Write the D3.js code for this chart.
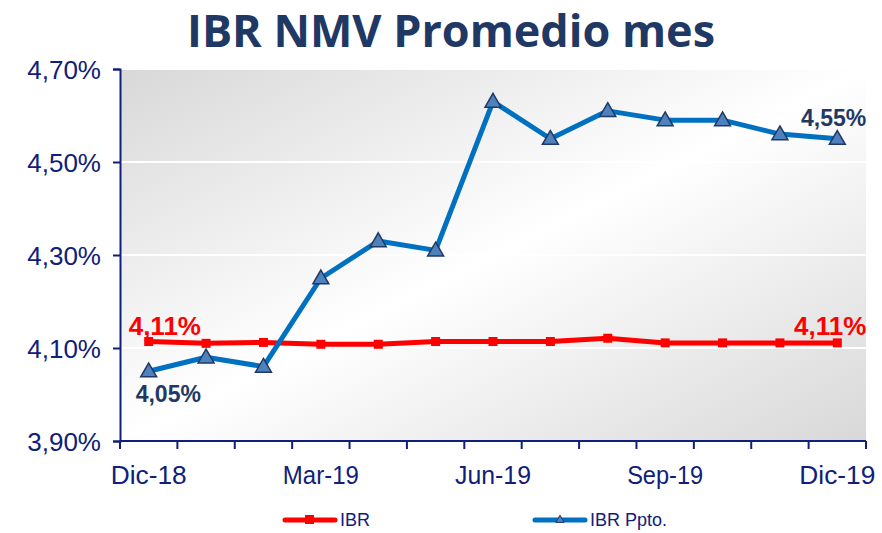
<!DOCTYPE html>
<html>
<head>
<meta charset="utf-8">
<script src="https://cdn.jsdelivr.net/npm/d3@7"></script>
<style>
  body { margin: 0; background: #fff; }
  svg { display: block; }
</style>
</head>
<body>
<div id="chart"></div>
<script>
// meses (categorías del eje x)
const months = ["Dic-18", "Ene-19", "Feb-19", "Mar-19", "Abr-19", "May-19", "Jun-19",
                "Jul-19", "Ago-19", "Sep-19", "Oct-19", "Nov-19", "Dic-19"];
const shownMonths = ["Dic-18", "Mar-19", "Jun-19", "Sep-19", "Dic-19"];
// valores en %
const ibr = [4.114, 4.110, 4.112, 4.108, 4.108, 4.114, 4.114, 4.114, 4.121, 4.111, 4.111, 4.111, 4.111];
const ibrPpto = [4.05, 4.08, 4.06, 4.25, 4.33, 4.31, 4.63, 4.55, 4.61, 4.59, 4.59, 4.56, 4.55];
const yTicks = [3.90, 4.10, 4.30, 4.50, 4.70];
const title = "IBR NMV Promedio mes";

const W = 882, H = 533;
const margin = {top: 69, right: 16, bottom: 92, left: 120};
const innerW = W - margin.left - margin.right;
const innerH = H - margin.top - margin.bottom;

const NAVY = "#10207a";
const DARK = "#1f3864";
const RED = "#ff0000";
const BLUE = "#0070c0";
const TRI = "#4f81bd";

const fmt = v => d3.format(".2f")(v).replace(".", ",") + "%";

const svg = d3.select("#chart").append("svg")
    .attr("width", W)
    .attr("height", H);

const defs = svg.append("defs");
const grad = defs.append("linearGradient")
    .attr("id", "bg")
    .attr("x1", 0).attr("y1", 0).attr("x2", 1).attr("y2", 1);
grad.append("stop").attr("offset", "0%").attr("stop-color", "#d8d8d8");
grad.append("stop").attr("offset", "50%").attr("stop-color", "#ffffff");
grad.append("stop").attr("offset", "100%").attr("stop-color", "#d8d8d8");

svg.append("text")
    .attr("x", 451)
    .attr("y", 47)
    .attr("text-anchor", "middle")
    .attr("font-family", "'Open Sans', sans-serif")
    .attr("font-weight", "bold")
    .attr("font-size", 44)
    .attr("textLength", 528)
    .attr("lengthAdjust", "spacingAndGlyphs")
    .attr("fill", DARK)
    .text(title);

const g = svg.append("g")
    .attr("transform", `translate(${margin.left},${margin.top})`);

const x = d3.scaleBand().domain(months).range([0, innerW]).padding(0);
const y = d3.scaleLinear().domain([3.9, 4.7]).range([innerH, 0]);
const cx = d => x(d) + x.bandwidth() / 2;

g.append("rect")
    .attr("width", innerW)
    .attr("height", innerH)
    .attr("fill", "url(#bg)");

// líneas de cuadrícula
g.append("g")
    .selectAll("line")
    .data(yTicks.slice(1))
    .join("line")
    .attr("x1", 0).attr("x2", innerW)
    .attr("y1", d => y(d)).attr("y2", d => y(d))
    .attr("stroke", "#ffffff")
    .attr("stroke-width", 2);

// eje y
const yAxis = g.append("g")
    .call(d3.axisLeft(y).tickValues(yTicks).tickFormat(fmt).tickSize(7).tickPadding(12));
yAxis.select(".domain").attr("stroke", NAVY).attr("stroke-width", 2);
yAxis.selectAll(".tick line").attr("stroke", NAVY).attr("stroke-width", 2);
yAxis.selectAll("text")
    .attr("fill", NAVY)
    .attr("font-family", "'Liberation Sans', Arial, sans-serif")
    .attr("font-size", 26)
    .attr("dy", "0.36em");

// eje x: marcas en los bordes de cada mes
const xAxisG = g.append("g").attr("transform", `translate(0,${innerH})`);
xAxisG.append("line")
    .attr("x1", 0).attr("x2", innerW)
    .attr("stroke", NAVY).attr("stroke-width", 2);
xAxisG.selectAll(".xtick")
    .data(months.concat(["__end"]))
    .join("line")
    .attr("class", "xtick")
    .attr("x1", (d, i) => i * x.bandwidth())
    .attr("x2", (d, i) => i * x.bandwidth())
    .attr("y1", 0).attr("y2", 8)
    .attr("stroke", NAVY).attr("stroke-width", 2);
xAxisG.selectAll(".xlabel")
    .data(shownMonths)
    .join("text")
    .attr("class", "xlabel")
    .attr("x", d => cx(d))
    .attr("y", 43)
    .attr("text-anchor", "middle")
    .attr("fill", NAVY)
    .attr("font-family", "'Liberation Sans', Arial, sans-serif")
    .attr("font-size", 26)
    .attr("textLength", 76)
    .attr("lengthAdjust", "spacingAndGlyphs")
    .text(d => d);

const line = d3.line()
    .x((d, i) => cx(months[i]))
    .y(d => y(d));

// IBR (rojo)
g.append("path")
    .datum(ibr)
    .attr("d", line)
    .attr("fill", "none")
    .attr("stroke", RED)
    .attr("stroke-width", 5)
    .attr("stroke-linejoin", "round");
g.selectAll(".sq")
    .data(ibr)
    .join("rect")
    .attr("class", "sq")
    .attr("x", (d, i) => cx(months[i]) - 4.5)
    .attr("y", d => y(d) - 4.5)
    .attr("width", 9).attr("height", 9)
    .attr("fill", RED);

// IBR Ppto. (azul)
g.append("path")
    .datum(ibrPpto)
    .attr("d", line)
    .attr("fill", "none")
    .attr("stroke", BLUE)
    .attr("stroke-width", 5)
    .attr("stroke-linejoin", "round");
const tri = d3.symbol().type(d3.symbolTriangle).size(110);
g.selectAll(".tri")
    .data(ibrPpto)
    .join("path")
    .attr("class", "tri")
    .attr("transform", (d, i) => `translate(${cx(months[i])},${y(d) + 1})`)
    .attr("d", tri)
    .attr("fill", TRI)
    .attr("stroke", DARK)
    .attr("stroke-width", 1.5);

// etiquetas de datos
const last = months.length - 1;
const labels = [
    {x: cx(months[0]) - 20, y: y(ibr[0]) - 6, v: ibr[0], anchor: "start", c: RED, s: 26},
    {x: cx(months[last]) + 29, y: y(ibr[last]) - 8, v: ibr[last], anchor: "end", c: RED, s: 26},
    {x: cx(months[0]) - 13, y: y(ibrPpto[0]) + 31, v: ibrPpto[0], anchor: "start", c: DARK, s: 23},
    {x: cx(months[last]) + 29, y: y(ibrPpto[last]) - 13, v: ibrPpto[last], anchor: "end", c: DARK, s: 23}
];
g.selectAll(".dl")
    .data(labels)
    .join("text")
    .attr("class", "dl")
    .attr("x", d => d.x)
    .attr("y", d => d.y)
    .attr("text-anchor", d => d.anchor)
    .attr("fill", d => d.c)
    .attr("font-family", "'Liberation Sans', Arial, sans-serif")
    .attr("font-weight", "bold")
    .attr("font-size", d => d.s)
    .text(d => fmt(d.v));

// leyenda
const legend = svg.append("g").attr("transform", "translate(0,520)");
const items = [
    {name: "IBR", x: 285, c: RED, mark: "sq"},
    {name: "IBR Ppto.", x: 535, c: BLUE, mark: "tri"}
];
items.forEach(it => {
    const lg = legend.append("g").attr("transform", `translate(${it.x},0)`);
    lg.append("line")
        .attr("x1", 0).attr("x2", 50)
        .attr("stroke", it.c).attr("stroke-width", 5)
        .attr("stroke-linecap", "round");
    if (it.mark === "sq") {
        lg.append("rect").attr("x", 20).attr("y", -5).attr("width", 9).attr("height", 9).attr("fill", it.c);
    } else {
        lg.append("path")
            .attr("transform", "translate(25,0)")
            .attr("d", d3.symbol().type(d3.symbolTriangle).size(30))
            .attr("fill", TRI).attr("stroke", DARK).attr("stroke-width", 1);
    }
    lg.append("text")
        .attr("x", 55)
        .attr("y", 0)
        .attr("dy", "0.36em")
        .attr("fill", NAVY)
        .attr("font-family", "'Liberation Sans', Arial, sans-serif")
        .attr("font-size", 18)
        .text(it.name);
});
</script>
</body>
</html>
